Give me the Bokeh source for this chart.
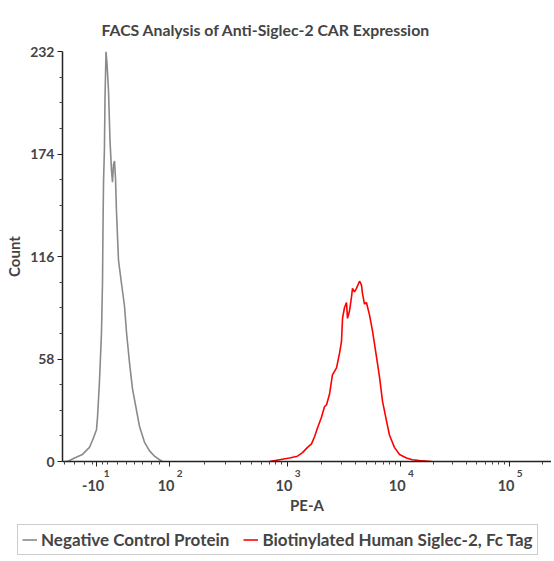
from bokeh.plotting import figure
from bokeh.models import Range1d, FixedTicker, LinearAxis, Legend, LegendItem
from bokeh.embed import file_html
from bokeh.resources import INLINE
import math

# ---- data (x = position on the biexponential PE-A display axis, decade units) ----
neg_x = [1.080, 1.100, 1.162, 1.232, 1.294, 1.321, 1.356, 1.365, 1.382, 1.400, 1.409,
         1.413, 1.418, 1.426, 1.431, 1.440, 1.449, 1.462, 1.475, 1.488, 1.497, 1.506,
         1.515, 1.524, 1.532, 1.550, 1.576, 1.603, 1.621, 1.647, 1.674, 1.709, 1.735,
         1.779, 1.824, 1.868, 1.912, 1.938]
neg_count = [0, 0, 2, 4, 8, 12, 18, 25, 45, 73, 101,
             130, 158, 177, 205, 232, 225, 210, 182, 165, 158, 168,
             170, 160, 142, 114, 101, 88, 73, 56, 41, 29, 20,
             11, 6, 3, 1, 0]

pos_x = [2.882, 2.971, 3.059, 3.129, 3.174, 3.218, 3.253, 3.280, 3.306, 3.341, 3.368,
         3.385, 3.394, 3.412, 3.438, 3.474, 3.500, 3.518, 3.527, 3.544, 3.562, 3.571,
         3.588, 3.606, 3.615, 3.632, 3.650, 3.677, 3.694, 3.703, 3.721, 3.738, 3.765,
         3.791, 3.827, 3.853, 3.880, 3.915, 3.941, 3.985, 4.030, 4.091, 4.144, 4.206,
         4.312]
pos_count = [0, 1, 2, 3, 5, 8, 10, 14, 19, 25, 31,
             32, 34, 38, 49, 53, 61, 68, 81, 87, 90, 81,
             85, 93, 98, 96, 98, 102, 100, 95, 89, 90, 83,
             74, 59, 48, 34, 23, 15, 8, 4, 2, 1, 0.5,
             0]

series_names = ["Negative Control Protein", "Biotinylated Human Siglec-2, Fc Tag"]
series_colors = ["#8a8a8a", "#ff0000"]

x_tick_pos = [1.356, 2.0, 3.04, 4.04, 5.0]
x_tick_base = ["-10", "10", "10", "10", "10"]
x_tick_exp = ["1", "2", "3", "4", "5"]
x_lin_minor = [1.074, 1.162, 1.250, 1.321, 1.409, 1.453, 1.541, 1.621, 1.691, 1.762, 1.841, 1.912]
y_ticks = [0, 58, 116, 174, 232]

FONT = "Lato"
X_END = 5.371

# ---- main figure ----
p = figure(width=551, height=516, output_backend="svg", toolbar_location=None,
           x_range=Range1d(1.056, X_END), y_range=Range1d(0, 232),
           min_border_left=62, min_border_right=0, min_border_top=51,
           min_border_bottom=50,
           title="FACS Analysis of Anti-Siglec-2 CAR Expression")
p.title.text_font = FONT
p.title.text_font_size = "15.8px"
p.title.text_font_style = "bold"
p.title.align = "left"
p.title.offset = 39
p.title.standoff = 25
p.outline_line_color = None
p.grid.visible = False
p.background_fill_color = "white"
p.border_fill_color = "white"

r1 = p.line(neg_x, neg_count, line_color=series_colors[0], line_width=1.6)
r2 = p.line(pos_x, pos_count, line_color=series_colors[1], line_width=1.6)

# minor ticks on the log part of the axis
decades = x_tick_pos[1:] + [5.96]
x_minor = list(x_lin_minor)
for a, b in zip(decades[:-1], decades[1:]):
    for m in range(2, 10):
        v = a + math.log10(m) * (b - a)
        if v < X_END:
            x_minor.append(v)

# y axis
ya = p.yaxis[0]
ya.ticker = FixedTicker(ticks=y_ticks,
                        minor_ticks=[y_ticks[i] + k * 14.5 for i in range(4) for k in (1, 2, 3)])
ya.axis_label = "Count"
ya.axis_label_text_font = FONT
ya.axis_label_text_font_style = "bold"
ya.axis_label_text_font_size = "15px"
ya.major_label_text_font = FONT
ya.major_label_text_font_style = "bold"
ya.major_label_text_font_size = "14px"
ya.axis_label_standoff = 4
ya.major_label_standoff = 3
ya.axis_line_color = "#222222"
ya.axis_line_width = 1.5
ya.major_tick_in = 0
ya.major_tick_out = 5
ya.minor_tick_in = 0
ya.minor_tick_out = 3
ya.major_tick_line_color = "#222222"
ya.minor_tick_line_color = "#444444"

# main x axis: line and ticks only
xa = p.xaxis[0]
xa.ticker = FixedTicker(ticks=x_tick_pos, minor_ticks=x_minor)
xa.axis_line_color = "#222222"
xa.axis_line_width = 1.5
xa.major_tick_in = 0
xa.major_tick_out = 5
xa.minor_tick_in = 0
xa.minor_tick_out = 3
xa.major_tick_line_color = "#222222"
xa.minor_tick_line_color = "#444444"
xa.major_label_text_font_size = "1px"
xa.major_label_text_alpha = 0
xa.major_label_standoff = 0

# exponent row
exp_pos = [t + 0.09 for t in x_tick_pos]
xe = LinearAxis(ticker=FixedTicker(ticks=exp_pos, minor_ticks=[]),
                major_label_overrides={t: e for t, e in zip(exp_pos, x_tick_exp)})
# base row
base_pos = [t - 0.03 for t in x_tick_pos]
xb = LinearAxis(ticker=FixedTicker(ticks=base_pos, minor_ticks=[]),
                major_label_overrides={t: b for t, b in zip(base_pos, x_tick_base)},
                axis_label="PE-A")
for ax, fs, so in [(xe, "10px", 3), (xb, "14.5px", 0)]:
    ax.axis_line_color = None
    ax.major_tick_line_color = None
    ax.minor_tick_line_color = None
    ax.major_tick_in = 0
    ax.major_tick_out = 0
    ax.minor_tick_in = 0
    ax.minor_tick_out = 0
    ax.major_label_text_font = FONT
    ax.major_label_text_font_style = "bold"
    ax.major_label_text_font_size = fs
    ax.major_label_standoff = so
xb.axis_label_text_font = FONT
xb.axis_label_text_font_style = "bold"
xb.axis_label_text_font_size = "15px"
xb.axis_label_standoff = 2
p.add_layout(xe, "below")
p.add_layout(xb, "below")

# ---- legend strip below the chart (separate root, so frames are not aligned) ----
nan = float("nan")
lg = figure(width=551, height=44, output_backend="svg", toolbar_location=None,
            x_range=Range1d(0, 1), y_range=Range1d(0, 1),
            min_border=0, min_border_left=0, min_border_right=0,
            min_border_top=0, min_border_bottom=0, x_axis_location=None,
            y_axis_location=None)
lg.grid.visible = False
lg.outline_line_color = None
l1 = lg.line([nan], [nan], line_color=series_colors[0], line_width=1.6)
l2 = lg.line([nan], [nan], line_color=series_colors[1], line_width=1.6)
legend = Legend(items=[LegendItem(label=series_names[0], renderers=[l1]),
                       LegendItem(label=series_names[1], renderers=[l2])],
                orientation="horizontal", location=(17, 5),
                label_text_font=FONT, label_text_font_style="bold",
                label_text_font_size="17px", label_standoff=4,
                glyph_width=15, glyph_height=17, label_height=17,
                spacing=14, padding=4, margin=0,
                border_line_color="#9a9a9a", border_line_width=1,
                background_fill_color="white")
lg.add_layout(legend)

open("out.html", "w").write(file_html([p, lg], INLINE))
